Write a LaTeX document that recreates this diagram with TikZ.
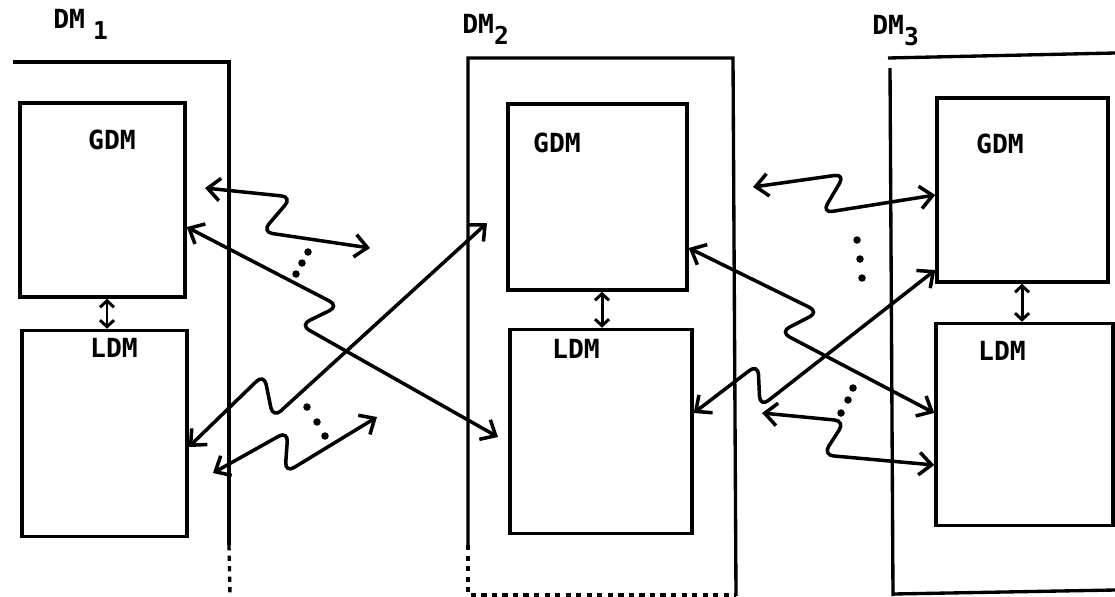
\documentclass[tikz,border=0pt]{standalone}
\usepackage{fontspec}
\setmonofont{DejaVu Sans Mono}
\usetikzlibrary{arrows.meta, positioning}
\newcommand{\dmidx}[1]{\raisebox{-6.5pt}{\fontsize{14pt}{14pt}\selectfont #1}}

\begin{document}
\begin{tikzpicture}[
    x=0.02cm, y=-0.02cm,
    >={Straight Barb[length=2.5mm, width=4.5mm]},
    every node/.style={font=\ttfamily\bfseries\fontsize{15pt}{15pt}\selectfont, inner sep=0pt},
    modbox/.style 2 args={draw, line width=2pt, minimum width=#1, minimum height=#2},
    frame/.style={line width=1.9pt},
    link/.style={<->, line width=2pt, rounded corners=6pt},
    updown/.style={{Straight Barb[length=1.3mm, width=2.8mm]}-{Straight Barb[length=1.3mm, width=2.8mm]}, line width=1.7pt},
    dot/.style={fill=black}
]
\useasboundingbox (0,0) rectangle (1115,596);

% frames of the three decision makers
\draw[frame] (13,62) -- (229,62) -- (229,545);
\draw[frame, dashed] (229,545) -- (230,596);
\draw[frame] (468,545) -- (468,58) -- (733,58) -- (736,596);
\draw[frame, dashed] (468,545) -- (468,595) -- (736,595);
\draw[frame] (1115,53) -- (888,58);
\draw[frame] (890,68) -- (893,596);
\draw[frame] (893,594) -- (1115,590);

\node (dm1txt) [anchor=base west] at (53,28) {DM\hspace{0.16cm}\dmidx{1}};
\node (dm2txt) [anchor=base west] at (462,33) {DM\dmidx{2}};
\node (dm3txt) [anchor=base west] at (872,34) {DM\dmidx{3}};

\node[modbox={3.3cm}{3.88cm}] (gdm1) at (102.5,200) {};
\node[modbox={3.3cm}{4.12cm}, below=0.6cm of gdm1, xshift=0.04cm] (ldm1) {};
\node[modbox={3.58cm}{3.72cm}] (gdm2) at (597.5,197) {};
\node[modbox={3.64cm}{4.08cm}, below=0.72cm of gdm2, xshift=0.07cm] (ldm2) {};
\node[modbox={3.42cm}{3.68cm}] (gdm3) at (1022.5,190) {};
\node[modbox={3.54cm}{4.04cm}, below=0.76cm of gdm3, xshift=0.04cm] (ldm3) {};

\node (gdm1txt) at (112,140) {GDM};
\node (ldm1txt) at (114,348) {LDM};
\node (gdm2txt) at (557,143) {GDM};
\node (ldm2txt) at (576,349) {LDM};
\node (gdm3txt) at (1000,144) {GDM};
\node (ldm3txt) at (1002,351) {LDM};

\draw[updown] (gdm1.south -| 107,0) -- (ldm1.north -| 107,0);
\draw[updown] (gdm2.south -| 602,0) -- (ldm2.north -| 602,0);
\draw[updown] (gdm3.south -| 1022,0) -- (ldm3.north -| 1022,0);

\coordinate (za1) at (205,188);
\coordinate (za2) at (370,248);
\coordinate (zb) at (498,437);
\coordinate (zc) at (487,223);
\coordinate (zd1) at (213,473);
\coordinate (zd2) at (377,417);
\coordinate (ze) at (753,187);
\coordinate (zh) at (762,413);

\draw[link] (za1) -- (292,197) -- (262,232) -- (za2);
\draw[link] (gdm1.east |- 0,227) -- (339,306) -- (300,325) -- (zb);
\draw[link] (ldm1.east |- 0,447) -- (264,374) -- (273,418) -- (zc);
\draw[link] (zd1) -- (288,431) -- (285,473) -- (zd2);

\draw[link] (ze) -- (845,174) -- (822,213) -- (gdm3.west |- 0,195);
\draw[link] (gdm2.east |- 0,248) -- (819,312) -- (780,332) -- (ldm3.west |- 0,413);
\draw[link] (ldm2.east |- 0,413) -- (758,364) -- (760,407) -- (gdm3.west |- 0,270);
\draw[link] (zh) -- (845,421) -- (823,455) -- (ldm3.west |- 0,465);

\foreach \p in {(308,252),(302,263),(296,274),(307,407),(317,422),(325,436),
                (857,240),(860,259),(862,278),(853,388),(848,400),(841,413)}
  \fill[dot] \p circle[radius=0.075cm];

\end{tikzpicture}
\end{document}
